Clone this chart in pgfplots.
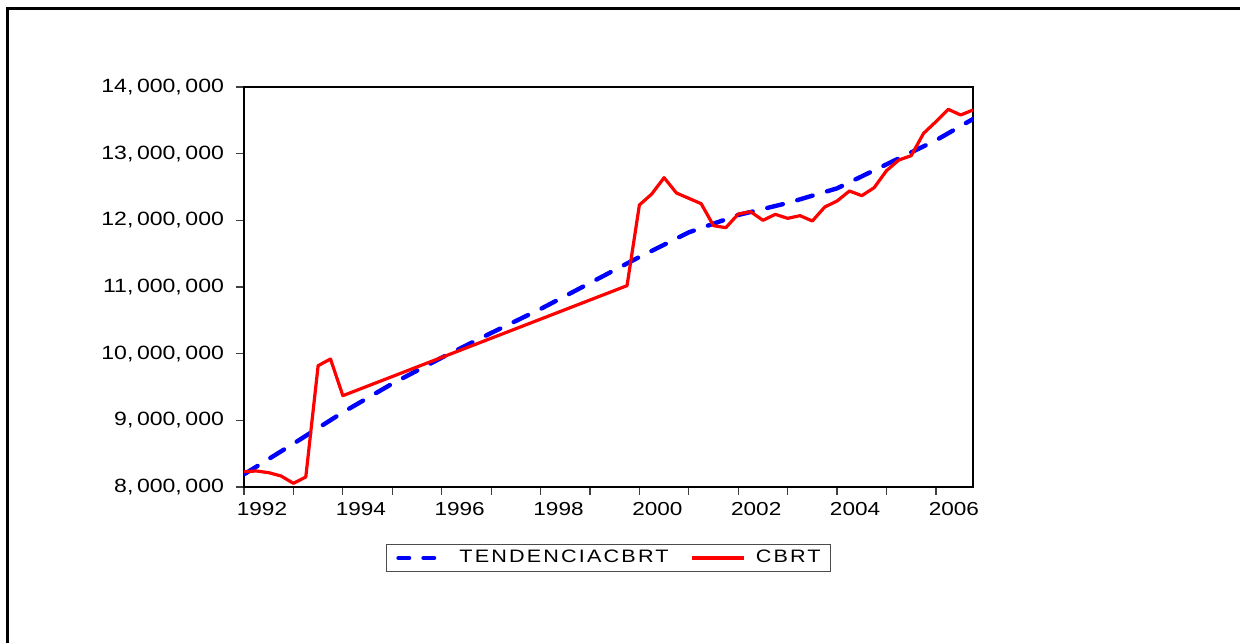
\documentclass[border=0pt]{standalone}
\usepackage{fontspec}
\setmainfont{Liberation Sans}
\newfontfamily\legfont[FakeStretch=1.2,LetterSpace=12]{Liberation Sans}
\newfontfamily\tickfont[FakeStretch=1.2]{Liberation Sans}
\usepackage{pgfplots}
\pgfplotsset{compat=1.18}
\pgfplotstableread{
q v
0 8.23
1 8.24
2 8.215
3 8.165
4 8.055
5 8.15
6 9.82
7 9.92
8 9.37
31 11.02
32 12.23
33 12.395
34 12.64
35 12.41
36 12.33
37 12.25
38 11.92
39 11.89
40 12.095
41 12.13
42 12.00
43 12.09
44 12.03
45 12.07
46 11.99
47 12.20
48 12.29
49 12.44
50 12.37
51 12.49
52 12.745
53 12.905
54 12.97
55 13.305
56 13.48
57 13.665
58 13.58
59 13.655
}\cbrt
\pgfplotstableread{
q v
0 8.19
4 8.65
8 9.12
12 9.55
16 9.94
20 10.31
24 10.67
28 11.06
32 11.45
36 11.82
40 12.08
44 12.26
48 12.48
52 12.84
56 13.20
59 13.52
}\trend
\newcommand{\yl}[1]{#1,\kern1.8pt000,\kern1.8pt000}
\begin{document}
\begin{tikzpicture}[x=0.5pt,y=0.5pt]
\path[use as bounding box] (0,0) rectangle (1240,643);
\draw[line width=1.5pt] (7,0) -- (7,634) -- (1240,634);
\begin{axis}[
  at={(122pt,78pt)}, anchor=south west,
  scale only axis, width=364.5pt, height=200pt,
  xmin=0, xmax=59, ymin=8, ymax=14,
  axis line style={black, line width=0.6pt},
  tick align=outside, xtick pos=bottom, ytick pos=left,
  major tick length=4pt, minor tick length=4pt,
  tick style={black!75, line width=0.6pt},
  xtick={0,8,...,56},
  xticklabels={1992,1994,1996,1998,2000,2002,2004,2006},
  minor xtick={4,12,...,52},
  ytick={8,9,...,14},
  yticklabels={{\yl{8}},{\yl{9}},{\yl{10}},{\yl{11}},{\yl{12}},{\yl{13}},{\yl{14}}},
  /pgf/number format/assume math mode=true,
  xticklabel style={font=\tickfont\fontsize{9.4}{11}\selectfont, anchor=north, xshift=9pt, yshift=0pt},
  yticklabel style={font=\tickfont\fontsize{9.6}{11}\selectfont, anchor=east, xshift=-2.5pt},
  legend style={at={(0.5,-0.1775)}, anchor=center, draw=black!70, line width=0.5pt,
    font=\legfont\fontsize{9}{10}\selectfont, inner xsep=5pt, inner ysep=3pt,
    nodes={inner sep=0pt},
    /tikz/every odd column/.append style={column sep=5pt},
    /tikz/every even column/.append style={column sep=11pt}},
  legend columns=2,
]
\addplot[blue, line width=2.2pt, line cap=round, dash pattern=on 8pt off 7.5pt,
  legend image code/.code={\draw[blue, line width=2.2pt, line cap=round, dash pattern=on 5.3pt off 7.2pt] (1.1pt,0pt) -- (18.9pt,0pt); \path (25.5pt,0pt);}] table[x=q,y=v] {\trend};
\addlegendentry{TENDENCIACBRT}
\addplot[red, line width=1.6pt, line join=round,
  legend image code/.code={\draw[red, line width=1.6pt] (0pt,0pt) -- (26pt,0pt);}] table[x=q,y=v] {\cbrt};
\addlegendentry{CBRT}
\end{axis}
\end{tikzpicture}
\end{document}
